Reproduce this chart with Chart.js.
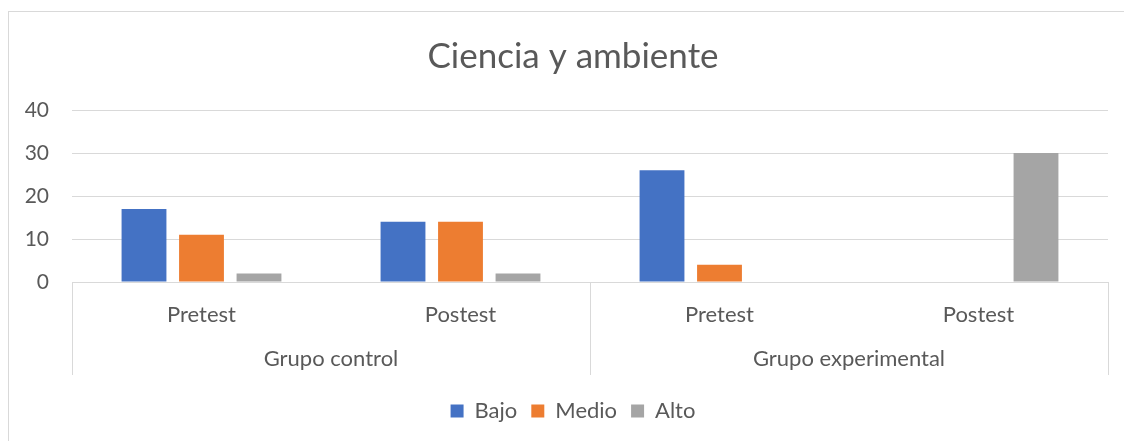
<!DOCTYPE html>
<html>
<head>
<meta charset="utf-8">
<script src="https://cdn.jsdelivr.net/npm/chart.js@4.4.1/dist/chart.umd.min.js"></script>
<style>
  html, body { margin: 0; padding: 0; background: #ffffff; overflow: hidden; }
  #wrap { width: 1124px; height: 441px; position: relative; overflow: hidden; }
</style>
</head>
<body>
<div id="wrap"><canvas id="c" width="1146" height="441"></canvas></div>
<script>
const titleText = 'Ciencia y ambiente';
const categories = ['Pretest', 'Postest', 'Pretest', 'Postest'];
const groups = ['Grupo control', 'Grupo experimental'];
const seriesNames = ['Bajo', 'Medio', 'Alto'];
const bajo = [17, 14, 26, 0];
const medio = [11, 14, 4, 0];
const alto = [2, 2, 0, 30];
const yMin = 0, yMax = 40, yStep = 10;

const colors = ['#4472C4', '#ED7D31', '#A5A5A5'];
const textColor = '#595959';
const lineColor = '#D9D9D9';
const fontFamily = 'Lato, "Open Sans", sans-serif';

const frame = {
  id: 'frame',
  beforeDraw(chart) {
    const ctx = chart.ctx;
    ctx.save();
    ctx.fillStyle = '#ffffff';
    ctx.fillRect(0, 0, chart.width, chart.height);
    ctx.strokeStyle = lineColor;
    ctx.lineWidth = 1;
    ctx.strokeRect(8.5, 11.5, chart.width + 50, chart.height + 50);
    ctx.restore();
  }
};

const multiLevel = {
  id: 'multiLevel',
  afterDraw(chart) {
    const xs = chart.scales.x;
    const ctx = chart.ctx;
    ctx.save();
    ctx.strokeStyle = lineColor;
    ctx.lineWidth = 1;
    const mid = (xs.getPixelForValue(1) + xs.getPixelForValue(2)) / 2;
    [xs.left, mid, xs.right].forEach(x => {
      const px = Math.round(x) + 0.5;
      ctx.beginPath();
      ctx.moveTo(px, xs.top);
      ctx.lineTo(px, xs.top + 93);
      ctx.stroke();
    });
    ctx.fillStyle = textColor;
    ctx.font = '22px ' + fontFamily;
    ctx.textAlign = 'center';
    ctx.textBaseline = 'middle';
    groups.forEach((g, i) => {
      const cx = (xs.getPixelForValue(2 * i) + xs.getPixelForValue(2 * i + 1)) / 2;
      ctx.fillText(g, cx, xs.top + 77);
    });
    ctx.restore();
  }
};

new Chart(document.getElementById('c'), {
  type: 'bar',
  data: {
    labels: categories,
    datasets: [
      { label: seriesNames[0], data: bajo, backgroundColor: colors[0] },
      { label: seriesNames[1], data: medio, backgroundColor: colors[1] },
      { label: seriesNames[2], data: alto, backgroundColor: colors[2] }
    ]
  },
  options: {
    responsive: false,
    animation: false,
    devicePixelRatio: 1,
    categoryPercentage: 0.666,
    barPercentage: 0.78,
    layout: { padding: { left: 16, right: 16, top: 0, bottom: 9 } },
    plugins: {
      title: {
        display: true,
        text: titleText,
        color: textColor,
        font: { family: fontFamily, size: 35, weight: 'normal' },
        padding: { top: 36, bottom: 32 }
      },
      legend: {
        position: 'bottom',
        labels: {
          color: textColor,
          font: { family: fontFamily, size: 22 },
          boxWidth: 13,
          boxHeight: 13,
          padding: 14
        }
      },
      tooltip: { enabled: false }
    },
    scales: {
      x: {
        grid: { display: false, drawTicks: false },
        border: { display: true, color: lineColor, width: 1 },
        ticks: { color: textColor, font: { family: fontFamily, size: 22 }, padding: 20, maxRotation: 0 },
        afterFit(scale) { scale.height = 104; }
      },
      y: {
        min: yMin,
        max: yMax,
        grid: { color: lineColor, lineWidth: 1, drawTicks: false },
        border: { display: false },
        ticks: { stepSize: yStep, color: textColor, font: { family: fontFamily, size: 21 }, padding: 23 },
        afterFit(scale) { scale.width = 56; }
      },
      yRight: {
        position: 'right',
        display: true,
        grid: { display: false, drawTicks: false },
        border: { display: false },
        ticks: { display: false },
        afterFit(scale) { scale.width = 22; }
      }
    }
  },
  plugins: [frame, multiLevel]
});
</script>
</body>
</html>
